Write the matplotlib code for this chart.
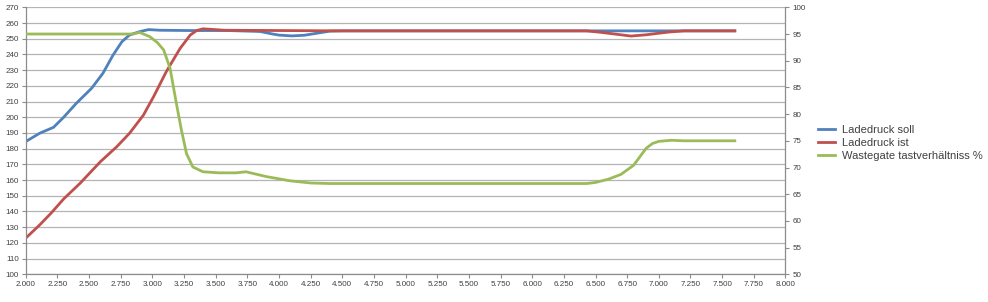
import numpy as np
import matplotlib
matplotlib.use("Agg")
import matplotlib.pyplot as plt
from matplotlib.ticker import FormatStrFormatter

plt.rcParams["font.family"] = ["Liberation Sans", "DejaVu Sans"]

# Ladedruck soll (left axis)
soll_x = [2.0, 2.11, 2.22, 2.3, 2.4, 2.52, 2.61, 2.69, 2.76, 2.82, 2.9, 2.97, 3.06,
          3.3, 3.6, 3.85, 3.95, 4.0, 4.1, 4.2, 4.3, 4.4, 4.5, 5.5, 6.5, 7.0, 7.6]
soll_y = [184.5, 189.8, 193.6, 200, 208.9, 218.4, 228, 239.6, 248.1, 252.4, 254.5, 255.8, 255.4,
          255.2, 255.2, 254.6, 253, 252.3, 251.8, 252.2, 253.5, 254.8, 255, 255, 255, 255, 255]

# Ladedruck ist (left axis)
ist_x = [2.0, 2.11, 2.2, 2.3, 2.43, 2.59, 2.72, 2.82, 2.93, 3.01, 3.11, 3.22, 3.3, 3.35,
         3.4, 3.57, 4.5, 5.5, 6.43, 6.55, 6.65, 6.78, 6.9, 7.0, 7.085, 7.2, 7.6]
ist_y = [123, 131.4, 138.9, 148, 158, 171.7, 181.3, 189.8, 201.4, 213.1, 229, 243.9, 252.4, 255.2,
         256.3, 255.4, 255, 255, 255, 254, 253, 251.7, 252.5, 253.5, 254.3, 255, 255]

# Wastegate tastverhaeltnis (right axis, %)
wg_x = [2.0, 2.5, 2.85, 2.9, 2.98, 3.04, 3.09, 3.14, 3.19, 3.23, 3.27, 3.32, 3.4, 3.53,
        3.66, 3.74, 3.9, 4.09, 4.25, 4.4, 5.5, 6.43, 6.5, 6.6, 6.7, 6.8, 6.9, 6.95,
        7.0, 7.1, 7.2, 7.6]
wg_y = [95, 95, 95, 95.3, 94.5, 93.4, 92.0, 88.6, 82.0, 77.0, 72.6, 70.1, 69.2, 69.0,
        69.0, 69.2, 68.3, 67.5, 67.1, 67.0, 67.0, 67.0, 67.2, 67.8, 68.7, 70.4, 73.6, 74.5,
        74.9, 75.1, 75.0, 75.0]

labels = ["Ladedruck soll", "Ladedruck ist", "Wastegate tastverhältniss %"]
colors = ["#4F81BD", "#C0504D", "#9BBB59"]

fig = plt.figure(figsize=(9.88, 3.02), dpi=100)
ax = fig.add_axes([0.026, 0.0917, 0.769, 0.8841])
ax2 = ax.twinx()

l1, = ax.plot(soll_x, soll_y, color=colors[0], lw=2.0, solid_joinstyle="round")
l2, = ax.plot(ist_x, ist_y, color=colors[1], lw=2.0, solid_joinstyle="round")
l3, = ax2.plot(wg_x, wg_y, color=colors[2], lw=2.0, solid_joinstyle="round")

grid_c = "#b4b4b4"
spine_c = "#8c8c8c"
text_c = "#404040"

ax.set_xlim(2, 8)
ax.set_ylim(100, 270)
ax2.set_ylim(50, 100)
ax.set_xticks(np.arange(2, 8.001, 0.25))
ax.set_yticks(np.arange(100, 271, 10))
ax2.set_yticks(np.arange(50, 101, 5))
ax.xaxis.set_major_formatter(FormatStrFormatter("%.3f"))

ax.yaxis.grid(True, color=grid_c, lw=0.9)
ax.set_axisbelow(True)

for a in (ax, ax2):
    a.spines["top"].set_visible(False)
    for s in ("left", "right", "bottom"):
        a.spines[s].set_color(spine_c)
        a.spines[s].set_linewidth(0.9)
    a.tick_params(labelsize=5.8, colors=text_c, length=3, width=0.8, color=spine_c, pad=2)
ax.spines["right"].set_visible(False)
ax2.spines["left"].set_visible(False)
ax2.spines["bottom"].set_visible(False)

fig.legend([l1, l2, l3], labels, loc="center left",
           bbox_to_anchor=(812 / 988, 1 - 143 / 302), frameon=False,
           fontsize=8, handlelength=1.6, handletextpad=0.6, labelspacing=0.3,
           borderpad=0, labelcolor=text_c)

plt.savefig("out.png", dpi=100)
plt.close()
